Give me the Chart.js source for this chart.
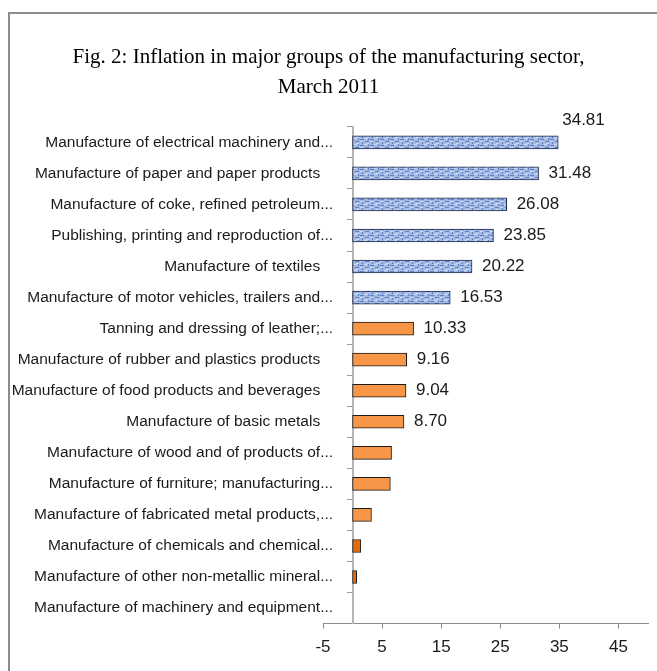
<!DOCTYPE html>
<html>
<head>
<meta charset="utf-8">
<script src="https://cdn.jsdelivr.net/npm/chart.js@4"></script>
<style>
  html, body { margin: 0; padding: 0; background: #fff; }
  #wrap { position: relative; width: 657px; height: 671px; overflow: hidden; }
  #frame { position: absolute; left: 8px; top: 12px; width: 700px; height: 700px;
           border-top: 2px solid #8c8c8c; border-left: 2px solid #8c8c8c; }
  canvas { position: absolute; left: 0; top: 0; }
</style>
</head>
<body>
<div id="wrap">
  <div id="frame"></div>
  <canvas id="chart" width="657" height="671"></canvas>
</div>
<script>
const titleLines = ["Fig. 2: Inflation in major groups of the manufacturing sector,", "March 2011"];

// full names keep a trailing gap, as they do in the source sheet
const groupLabels = [
  "Manufacture of electrical machinery and...",
  "Manufacture of paper and paper products   ",
  "Manufacture of coke, refined petroleum...",
  "Publishing, printing and reproduction of...",
  "Manufacture of textiles   ",
  "Manufacture of motor vehicles, trailers and...",
  "Tanning and dressing of leather;...",
  "Manufacture of rubber and plastics products   ",
  "Manufacture of food products and beverages   ",
  "Manufacture of basic metals   ",
  "Manufacture of wood and of products of...",
  "Manufacture of furniture; manufacturing...",
  "Manufacture of fabricated metal products,...",
  "Manufacture of chemicals and chemical...",
  "Manufacture of other non-metallic mineral...",
  "Manufacture of machinery and equipment..."
];

const inflationValues = [34.81, 31.48, 26.08, 23.85, 20.22, 16.53, 10.33, 9.16, 9.04, 8.70, 6.6, 6.4, 3.2, 1.4, 0.7, 0];

// only the top ten bars carry a value label in the original
const valueLabels = ["34.81", "31.48", "26.08", "23.85", "20.22", "16.53", "10.33", "9.16", "9.04", "8.70"];

const xTickValues = [-5, 5, 15, 25, 35, 45];
const xMin = -5;
const xMax = 50;

const sansFont = "'Liberation Sans', Arial, sans-serif";

function makeBluePattern() {
  const c = document.createElement("canvas");
  c.width = 10;
  c.height = 6;
  const g = c.getContext("2d");
  g.fillStyle = "#a3b9e4";
  g.fillRect(0, 0, 10, 6);
  g.fillStyle = "#5f82c4";
  g.fillRect(0, 1, 4, 1);
  g.fillRect(5, 3, 4, 1);
  g.fillRect(2, 4, 1, 2);
  g.fillRect(8, 0, 1, 2);
  g.fillStyle = "#cdd9f1";
  g.fillRect(4, 0, 3, 1);
  g.fillRect(0, 3, 3, 1);
  g.fillRect(6, 5, 3, 1);
  return g.createPattern(c, "repeat");
}

const bluePattern = makeBluePattern();
const barColors = inflationValues.map((v, i) => (i < 6 ? bluePattern : i < 13 ? "#f79646" : "#e46c0a"));
const barBorders = inflationValues.map((v, i) => (i < 6 ? "#1c2a4a" : "#1a1a1a"));

const valueLabelPlugin = {
  id: "valueLabels",
  afterDatasetsDraw(chart) {
    const ctx = chart.ctx;
    const bars = chart.getDatasetMeta(0).data;
    ctx.save();
    ctx.font = "17px " + sansFont;
    ctx.fillStyle = "#1a1a1a";
    ctx.textBaseline = "middle";
    ctx.textAlign = "left";
    valueLabels.forEach((text, i) => {
      const bar = bars[i];
      // the first label sits above its bar, as in the source figure
      const dx = i === 0 ? 4 : 10;
      const dy = i === 0 ? -22 : 0;
      ctx.fillText(text, bar.x + dx, bar.y + dy);
    });
    ctx.restore();
  }
};

new Chart(document.getElementById("chart"), {
  type: "bar",
  data: {
    labels: groupLabels,
    datasets: [
      {
        data: inflationValues,
        backgroundColor: barColors,
        borderColor: barBorders,
        borderWidth: 1,
        borderSkipped: false,
        barThickness: 13,
        yAxisID: "y"
      }
    ]
  },
  options: {
    indexAxis: "y",
    responsive: false,
    animation: false,
    layout: {
      padding: { left: 9, right: 9, top: 0, bottom: 4 }
    },
    plugins: {
      legend: { display: false },
      tooltip: { enabled: false },
      title: {
        display: true,
        text: titleLines,
        color: "#000",
        font: { family: "'Liberation Serif', 'Times New Roman', serif", size: 21, weight: "normal", lineHeight: 1.4 },
        padding: { top: 43, bottom: 25 }
      }
    },
    scales: {
      x: {
        min: xMin,
        max: xMax,
        afterBuildTicks: scale => {
          scale.ticks = xTickValues.map(v => ({ value: v }));
        },
        grid: { drawOnChartArea: false, drawTicks: true, tickLength: 5, color: "#8c8c8c" },
        border: { color: "#8c8c8c", width: 1 },
        ticks: {
          color: "#1a1a1a",
          padding: 9,
          font: { family: sansFont, size: 17 }
        }
      },
      // axis line and tick marks, crossing the value axis at zero
      y: {
        position: { x: 0 },
        grid: { drawOnChartArea: false, drawTicks: true, tickLength: 5, color: "#9a9a9a", offset: true },
        border: { color: "#b5b5b5", width: 2 },
        ticks: { display: false }
      },
      // category names, right-aligned a little left of the zero line
      yLabels: {
        type: "category",
        axis: "y",
        position: { x: -3.3 },
        offset: true,
        grid: { display: false, drawTicks: false },
        border: { display: false },
        ticks: {
          color: "#1a1a1a",
          autoSkip: false,
          font: { family: sansFont, size: 15.5 }
        }
      },
      // empty left margin that holds the label column
      yPad: {
        type: "category",
        axis: "y",
        position: "left",
        afterFit: scale => {
          scale.width = 314;
        },
        grid: { display: false, drawTicks: false },
        border: { display: false },
        ticks: { display: false }
      }
    }
  },
  plugins: [valueLabelPlugin]
});
</script>
</body>
</html>
